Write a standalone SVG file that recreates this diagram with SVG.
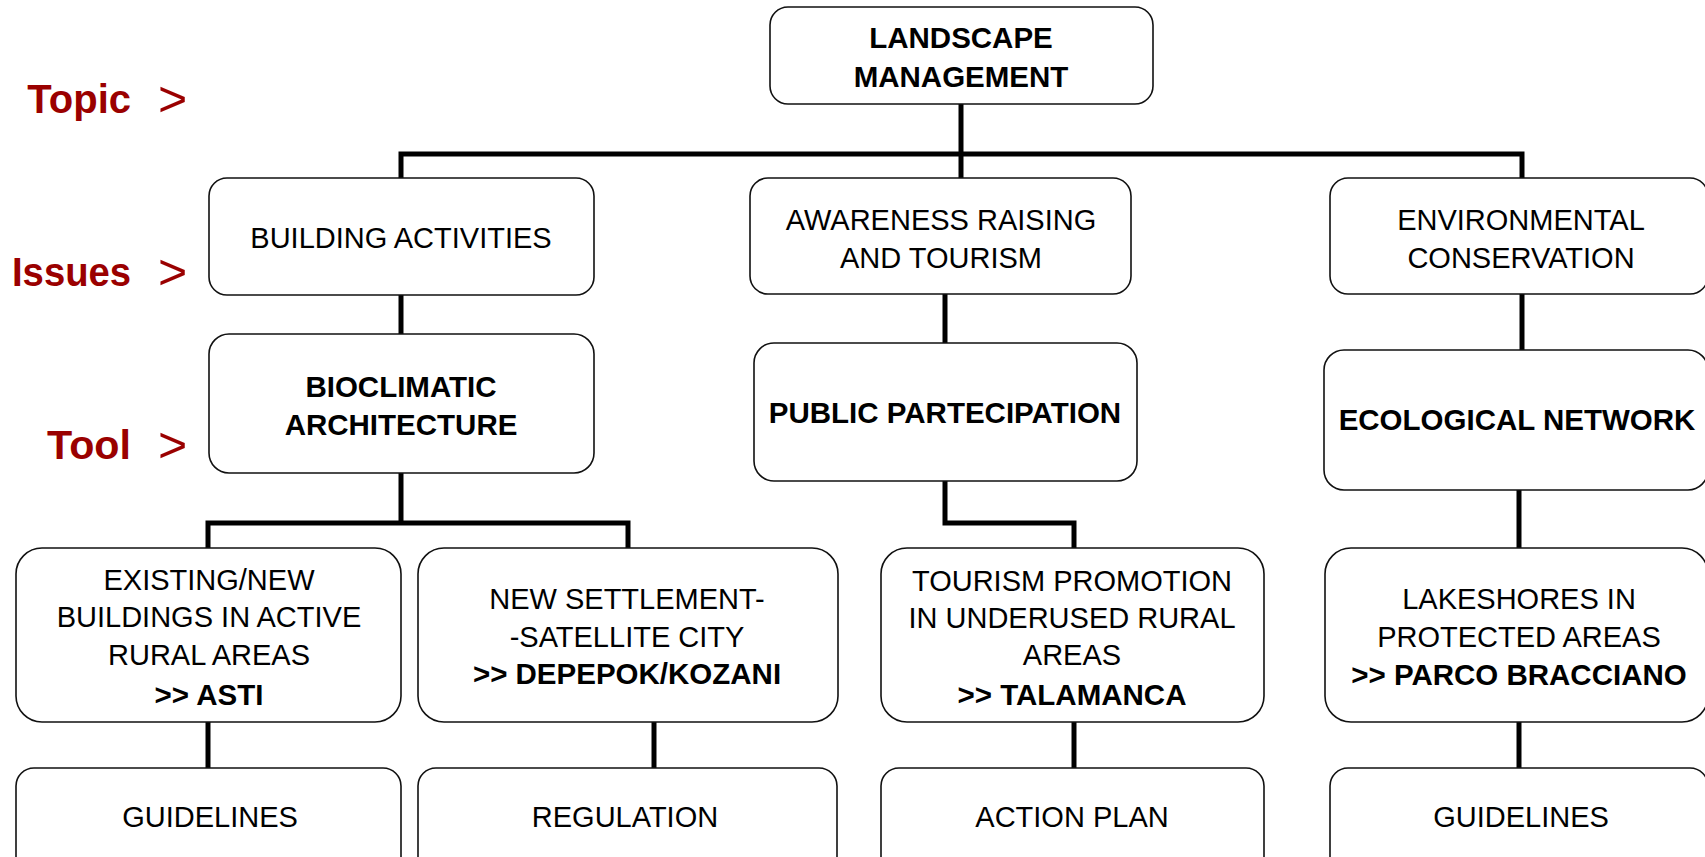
<svg xmlns="http://www.w3.org/2000/svg" width="1705" height="857" viewBox="0 0 1705 857">
  <style>
    .box { fill: #ffffff; stroke: #111111; stroke-width: 1.6; }
    .t { font-family: "Liberation Sans", Arial, sans-serif; font-size: 29px; fill: #000000; text-anchor: middle; }
    .b { font-weight: bold; font-size: 29.5px; }
    .lvl { font-family: "Liberation Sans", Arial, sans-serif; font-size: 40px; font-weight: bold; fill: #9a0000; text-anchor: end; }
    .arr { font-family: "Liberation Sans", Arial, sans-serif; font-size: 50px; fill: #9a0000; }
    .wire { fill: none; stroke: #000000; stroke-width: 5; stroke-linejoin: miter; stroke-linecap: butt; }
  </style>

  <rect x="0" y="0" width="1705" height="857" fill="#ffffff"/>

  <!-- level captions -->
  <g id="levels">
    <text class="lvl" x="131" y="113">Topic</text>
    <text class="arr" x="158" y="116">&gt;</text>
    <text class="lvl" x="131" y="286" textLength="119" lengthAdjust="spacingAndGlyphs">Issues</text>
    <text class="arr" x="158" y="289">&gt;</text>
    <text class="lvl" x="131" y="459" textLength="84" lengthAdjust="spacingAndGlyphs">Tool</text>
    <text class="arr" x="158" y="462">&gt;</text>
  </g>

  <!-- connectors -->
  <g id="connectors" class="wire">
    <path d="M961,104 V178"/>
    <path d="M401,178 V154 H1522 V178"/>
    <path d="M401,295 V334"/>
    <path d="M945,294 V343"/>
    <path d="M1522,294 V350"/>
    <path d="M401,473 V523"/>
    <path d="M208,548 V523 H628 V548"/>
    <path d="M945,481 V523 H1074 V548"/>
    <path d="M1519,490 V548"/>
    <path d="M208,722 V768"/>
    <path d="M654,722 V768"/>
    <path d="M1074,722 V768"/>
    <path d="M1519,722 V768"/>
  </g>

  <!-- topic -->
  <g id="landscape-management">
    <rect class="box" x="770" y="7" width="383" height="97" rx="18"/>
    <text class="t b" x="961" y="48">LANDSCAPE</text>
    <text class="t b" x="961" y="87">MANAGEMENT</text>
  </g>

  <!-- issues -->
  <g id="building-activities">
    <rect class="box" x="209" y="178" width="385" height="117" rx="18"/>
    <text class="t" x="401" y="248">BUILDING ACTIVITIES</text>
  </g>
  <g id="awareness-tourism">
    <rect class="box" x="750" y="178" width="381" height="116" rx="18"/>
    <text class="t" x="941" y="230">AWARENESS RAISING</text>
    <text class="t" x="941" y="268">AND TOURISM</text>
  </g>
  <g id="environmental-conservation">
    <rect class="box" x="1330" y="178" width="378" height="116" rx="18"/>
    <text class="t" x="1521" y="230">ENVIRONMENTAL</text>
    <text class="t" x="1521" y="268">CONSERVATION</text>
  </g>

  <!-- tools -->
  <g id="bioclimatic-architecture">
    <rect class="box" x="209" y="334" width="385" height="139" rx="20"/>
    <text class="t b" x="401" y="397">BIOCLIMATIC</text>
    <text class="t b" x="401" y="435">ARCHITECTURE</text>
  </g>
  <g id="public-partecipation">
    <rect class="box" x="754" y="343" width="383" height="138" rx="20"/>
    <text class="t b" x="945" y="423">PUBLIC PARTECIPATION</text>
  </g>
  <g id="ecological-network">
    <rect class="box" x="1324" y="350" width="384" height="140" rx="20"/>
    <text class="t b" x="1517" y="430">ECOLOGICAL NETWORK</text>
  </g>

  <!-- case studies -->
  <g id="existing-new-buildings">
    <rect class="box" x="16" y="548" width="385" height="174" rx="26"/>
    <text class="t" x="209" y="590">EXISTING/NEW</text>
    <text class="t" x="209" y="627">BUILDINGS IN ACTIVE</text>
    <text class="t" x="209" y="665">RURAL AREAS</text>
    <text class="t b" x="209" y="705">&gt;&gt; ASTI</text>
  </g>
  <g id="new-settlement">
    <rect class="box" x="418" y="548" width="420" height="174" rx="26"/>
    <text class="t" x="627" y="609">NEW SETTLEMENT-</text>
    <text class="t" x="627" y="647">-SATELLITE CITY</text>
    <text class="t b" x="627" y="684">&gt;&gt; DEPEPOK/KOZANI</text>
  </g>
  <g id="tourism-promotion">
    <rect class="box" x="881" y="548" width="383" height="174" rx="26"/>
    <text class="t" x="1072" y="591">TOURISM PROMOTION</text>
    <text class="t" x="1072" y="628">IN UNDERUSED RURAL</text>
    <text class="t" x="1072" y="665">AREAS</text>
    <text class="t b" x="1072" y="705">&gt;&gt; TALAMANCA</text>
  </g>
  <g id="lakeshores">
    <rect class="box" x="1325" y="548" width="383" height="174" rx="26"/>
    <text class="t" x="1519" y="609">LAKESHORES IN</text>
    <text class="t" x="1519" y="647">PROTECTED AREAS</text>
    <text class="t b" x="1519" y="685">&gt;&gt; PARCO BRACCIANO</text>
  </g>

  <!-- outputs -->
  <g id="guidelines-asti">
    <rect class="box" x="16" y="768" width="385" height="120" rx="18"/>
    <text class="t" x="210" y="827">GUIDELINES</text>
  </g>
  <g id="regulation">
    <rect class="box" x="418" y="768" width="419" height="120" rx="18"/>
    <text class="t" x="625" y="827">REGULATION</text>
  </g>
  <g id="action-plan">
    <rect class="box" x="881" y="768" width="383" height="120" rx="18"/>
    <text class="t" x="1072" y="827">ACTION PLAN</text>
  </g>
  <g id="guidelines-bracciano">
    <rect class="box" x="1330" y="768" width="378" height="120" rx="18"/>
    <text class="t" x="1521" y="827">GUIDELINES</text>
  </g>
</svg>
